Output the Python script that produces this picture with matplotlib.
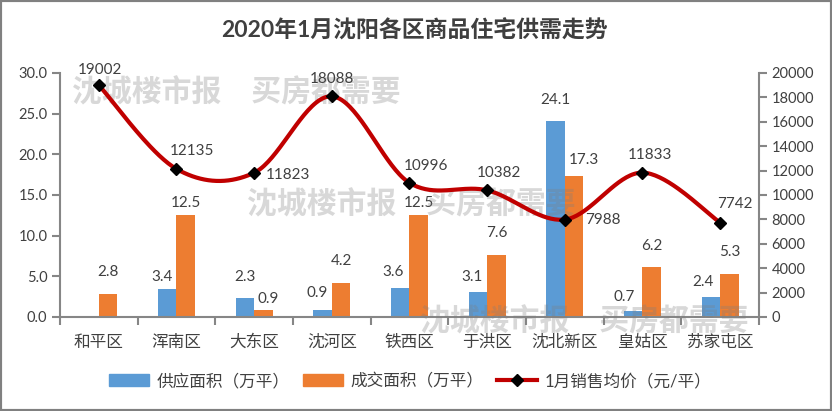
import numpy as np
import matplotlib.pyplot as plt
from matplotlib.lines import Line2D
from matplotlib.patches import Patch, Rectangle

plt.rcParams['font.family'] = ['Lato', 'Noto Sans CJK SC', 'DejaVu Sans']

districts = ['和平区', '浑南区', '大东区', '沈河区', '铁西区', '于洪区',
             '沈北新区', '皇姑区', '苏家屯区']
supply = [0, 3.4, 2.3, 0.9, 3.6, 3.1, 24.1, 0.7, 2.4]
deal = [2.8, 12.5, 0.9, 4.2, 12.5, 7.6, 17.3, 6.2, 5.3]
price = [19002, 12135, 11823, 18088, 10996, 10382, 7988, 11833, 7742]

title = '2020年1月沈阳各区商品住宅供需走势'
series_names = ['供应面积（万平）', '成交面积（万平）', '1月销售均价（元/平）']
watermark = '沈城楼市报\u3000买房都需要'

BLUE = '#5B9BD5'
ORANGE = '#ED7D31'
RED = '#C00000'
AXIS = '#868686'
TXT = '#404040'

# label offsets in pixels (placement only)
supply_off = [(0, 0), (-5, 12), (0, 21), (-5, 17), (-7, 16), (-6, 15),
              (0, 21), (-9, 14), (-8, 15)]
deal_off = [(0, 22), (0, 12), (5, 11), (0, 22), (0, 12), (0, 22),
            (10, 16), (0, 21), (0, 22)]
price_off = [(1, 15), (15, 18), (34, -2), (0, 17), (16, 17), (12, 17),
             (38, 0), (7, 18), (15, 19)]


def smooth(xs, ys, n=40):
    '''Catmull-Rom curve through the points, like Excel's smoothed line.'''
    p = np.column_stack([xs, ys]).astype(float)
    p = np.vstack([p[0], p, p[-1]])
    out = []
    for i in range(1, len(p) - 2):
        p0, p1, p2, p3 = p[i - 1], p[i], p[i + 1], p[i + 2]
        t = np.linspace(0, 1, n)[:, None]
        seg = 0.5 * ((2 * p1) + (-p0 + p2) * t
                     + (2 * p0 - 5 * p1 + 4 * p2 - p3) * t ** 2
                     + (-p0 + 3 * p1 - 3 * p2 + p3) * t ** 3)
        out.append(seg if i == 1 else seg[1:])
    out = np.vstack(out)
    return out[:, 0], out[:, 1]


fig = plt.figure(figsize=(8.32, 4.11), dpi=100)
ax = fig.add_axes([60 / 832, 1 - 317 / 411, 699 / 832, 244 / 411])
ax2 = ax.twinx()

x = np.arange(len(districts))
w = 0.238
ax.bar(x - w / 2, supply, w, color=BLUE, zorder=2)
ax.bar(x + w / 2, deal, w, color=ORANGE, zorder=2)

for i in range(len(x)):
    if supply[i] > 0:
        ax.annotate('%.1f' % supply[i], (x[i] - w / 2, supply[i]),
                    xytext=supply_off[i], textcoords='offset pixels',
                    ha='center', va='center', fontsize=11, color=TXT)
    ax.annotate('%.1f' % deal[i], (x[i] + w / 2, deal[i]),
                xytext=deal_off[i], textcoords='offset pixels',
                ha='center', va='center', fontsize=11, color=TXT)

ax.set_xlim(-0.5, len(x) - 0.5)
ax.set_ylim(0, 30)
ax.set_yticks(np.arange(0, 31, 5))
ax.set_yticklabels(['%.1f' % v for v in np.arange(0, 31, 5)])
ax.set_xticks(np.arange(-0.5, len(x), 1))
ax.set_xticklabels([])
ax.set_xticks(x, minor=True)
ax.set_xticklabels(districts, minor=True, fontsize=12, color=TXT)
ax.tick_params(axis='x', which='minor', length=0, pad=12)
ax.tick_params(axis='x', which='major', length=6, width=1.5, color=AXIS)
ax.tick_params(axis='y', length=6, width=1.5, color=AXIS, labelsize=10.5,
               labelcolor=TXT, pad=3)

# watermark between bars and line
for wx, wy in [(72, 93), (247, 205), (420, 322)]:
    ax.text(wx / 832, 1 - wy / 411, watermark, transform=fig.transFigure,
            fontsize=21.5, fontweight='bold', color='#7f7f7f', alpha=0.3,
            ha='left', va='center', zorder=5, family='Noto Sans CJK SC')

sx, sy = smooth(x, price)
ax2.plot(sx, sy, color=RED, lw=3, solid_capstyle='round', zorder=3)
ax2.plot(x, price, ls='none', marker='D', ms=6, color='black', zorder=4)
for i in range(len(x)):
    ax2.annotate('%d' % price[i], (x[i], price[i]), xytext=price_off[i],
                 textcoords='offset pixels', ha='center', va='center',
                 fontsize=11, color=TXT)
ax2.set_ylim(0, 20000)
ax2.set_yticks(np.arange(0, 20001, 2000))
ax2.tick_params(axis='y', length=6, width=1.5, color=AXIS, labelsize=10.5,
                labelcolor=TXT, pad=3)

for a in (ax, ax2):
    a.spines['top'].set_visible(False)
    for s in ('left', 'right', 'bottom'):
        a.spines[s].set_color(AXIS)
        a.spines[s].set_linewidth(1.5)
ax.spines['right'].set_visible(False)
ax2.spines['left'].set_visible(False)
ax2.spines['bottom'].set_visible(False)

fig.text(414 / 832, 1 - 30 / 411, title, ha='center', va='center',
         fontsize=16.5, fontweight='bold', color='#3f3f3f')

handles = [Patch(color=BLUE), Patch(color=ORANGE),
           Line2D([], [], color=RED, lw=3, marker='D', ms=6,
                  markerfacecolor='black', markeredgecolor='black')]
fig.legend(handles, series_names, loc='center', ncol=3,
           bbox_to_anchor=(410 / 832, 1 - 381 / 411), frameon=False,
           fontsize=12, handlelength=2.4, handletextpad=0.45,
           columnspacing=0.8, labelcolor=TXT)

fig.patches.append(Rectangle((0, 0), 1, 1, transform=fig.transFigure,
                             fill=False, edgecolor='#808080', lw=3))

plt.savefig('out.png', dpi=100)
